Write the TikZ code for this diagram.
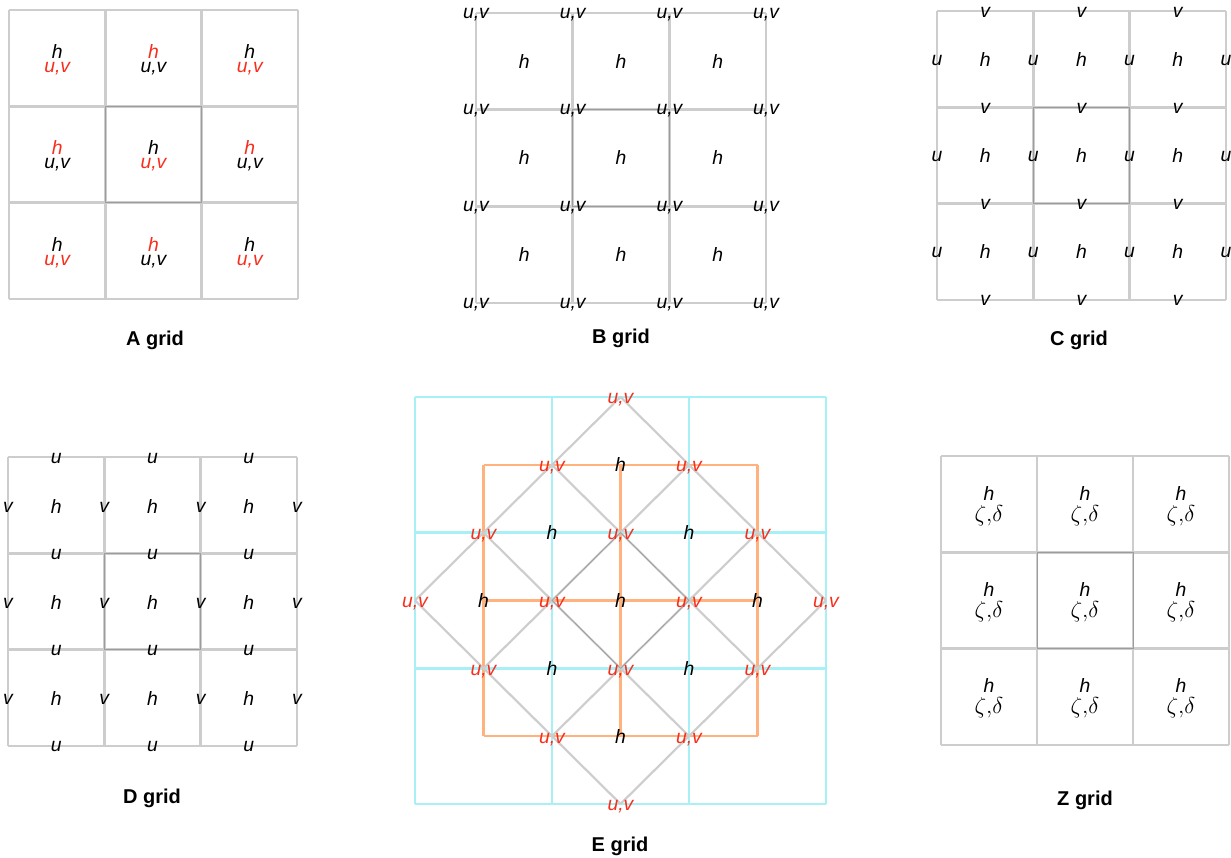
\documentclass[tikz,border=0pt]{standalone}
\usepackage{fontspec}
\setmainfont{Liberation Sans}
\usetikzlibrary{positioning}
\definecolor{gitgrau}{HTML}{CDCDCD}
\definecolor{mittgrau}{HTML}{9C9C9C}
\definecolor{punktrot}{HTML}{F82E1C}
\definecolor{eturkis}{HTML}{A6F0F6}
\definecolor{eorange}{HTML}{FFB27E}

\begin{document}
\begin{tikzpicture}[x=0.75pt, y=-0.75pt,
    gitter/.style={gitgrau, line width=2pt},
    mitte/.style={mittgrau, line width=0.5pt},
    var/.style={font=\fontsize{14.5}{17}\selectfont\itshape, inner sep=0pt, anchor=base},
    rot/.style={var, text=punktrot},
    titel/.style={font=\fontsize{15}{18}\selectfont\bfseries, inner sep=0pt, anchor=base}]

    \useasboundingbox (0,0) rectangle (1231,857);

    % A-Gitter: alles im Zellmittelpunkt
    \begin{scope}[shift={(9,10)}]
        \foreach \k in {0,...,3} {
            \draw[gitter] (96.3*\k,0) -- (96.3*\k,289);
            \draw[gitter] (0,96.3*\k) -- (289,96.3*\k);
        }
        \draw[mitte] (96.3,96.3) rectangle (192.6,192.6);
        \foreach \i/\j/\hf/\uf in {0/0/var/rot, 1/0/rot/var, 2/0/var/rot,
                                   0/1/rot/var, 1/1/var/rot, 2/1/rot/var,
                                   0/2/var/rot, 1/2/rot/var, 2/2/var/rot} {
            \node[\hf] (a-h-\i\j) at (96.3*\i+48.2, 96.3*\j+48.5) {h};
            \node[\uf] (a-uv-\i\j) at (96.3*\i+48.2, 96.3*\j+62.5) {u,v};
        }
    \end{scope}
    \node[titel] (a-titel) at (155,345) {A grid};

    % B-Gitter: u,v an den Ecken
    \begin{scope}[shift={(476,13)}]
        \foreach \k in {0,...,3} {
            \draw[gitter] (96.7*\k,0) -- (96.7*\k,290);
            \draw[gitter] (0,96.7*\k) -- (290,96.7*\k);
        }
        \draw[mitte] (96.7,96.7) rectangle (193.4,193.4);
        \foreach \i in {0,...,3}
            \foreach \j in {0,...,3}
                \node[var] (b-uv-\i\j) at (96.7*\i, 96.7*\j+5) {u,v};
        \foreach \i in {0,1,2}
            \foreach \j in {0,1,2}
                \node[var] (b-h-\i\j) at (96.7*\i+48.3, 96.7*\j+55) {h};
    \end{scope}
    \node[titel] (b-titel) at (621,343) {B grid};

    % C-Gitter: u auf senkrechten, v auf waagrechten Kanten
    \begin{scope}[shift={(937,11)}]
        \foreach \k in {0,...,3} {
            \draw[gitter] (96.3*\k,0) -- (96.3*\k,289);
            \draw[gitter] (0,96.3*\k) -- (289,96.3*\k);
        }
        \draw[mitte] (96.3,96.3) rectangle (192.6,192.6);
        \foreach \i in {0,...,3}
            \foreach \j in {0,1,2}
                \node[var] (c-u-\i\j) at (96.3*\i, 96.3*\j+54) {u};
        \foreach \i in {0,1,2}
            \foreach \j in {0,...,3}
                \node[var] (c-v-\i\j) at (96.3*\i+48.2, 96.3*\j+6) {v};
        \foreach \i in {0,1,2}
            \foreach \j in {0,1,2}
                \node[var] (c-h-\i\j) at (96.3*\i+48.2, 96.3*\j+55) {h};
    \end{scope}
    \node[titel] (c-titel) at (1079,345) {C grid};

    % D-Gitter: u auf waagrechten, v auf senkrechten Kanten
    \begin{scope}[shift={(8,457)}]
        \foreach \k in {0,...,3} {
            \draw[gitter] (96.3*\k,0) -- (96.3*\k,289);
            \draw[gitter] (0,96.3*\k) -- (289,96.3*\k);
        }
        \draw[mitte] (96.3,96.3) rectangle (192.6,192.6);
        \foreach \i in {0,1,2}
            \foreach \j in {0,...,3}
                \node[var] (d-u-\i\j) at (96.3*\i+48.2, 96.3*\j+6) {u};
        \foreach \i in {0,...,3}
            \foreach \j in {0,1,2}
                \node[var] (d-v-\i\j) at (96.3*\i, 96.3*\j+55) {v};
        \foreach \i in {0,1,2}
            \foreach \j in {0,1,2}
                \node[var] (d-h-\i\j) at (96.3*\i+48.2, 96.3*\j+56) {h};
    \end{scope}
    \node[titel] (d-titel) at (152,803) {D grid};

    % E-Gitter: gedrehtes Gitter ueber zwei geraden Gittern
    \begin{scope}[shift={(415,397)}, yscale=0.99]
        \foreach \k in {0,...,3} {
            \draw[eturkis, line width=1.9pt] (137*\k,0) -- (137*\k,411);
            \draw[eturkis, line width=1.9pt] (0,137*\k) -- (411,137*\k);
        }
        \foreach \k in {0,1,2} {
            \draw[eorange, line width=1.9pt] (68.5+137*\k,68.5) -- (68.5+137*\k,342.5);
            \draw[eorange, line width=1.9pt] (68.5,68.5+137*\k) -- (342.5,68.5+137*\k);
        }
        \foreach \i in {0,...,3}
            \foreach \j in {0,...,3}
                \coordinate (e-\i\j) at ({205.5+68.5*(\j-\i)}, {68.5*(\i+\j)});
        \foreach \k in {0,...,3} {
            \draw[gitter, line width=1.6pt] (e-\k0) -- (e-\k3);
            \draw[gitter, line width=1.6pt] (e-0\k) -- (e-3\k);
        }
        \draw[mitte] (e-11) -- (e-12) -- (e-22) -- (e-21) -- cycle;
        \foreach \i in {0,...,3}
            \foreach \j in {0,...,3}
                \node[rot] (e-uv-\i\j) at ({205.5+68.5*(\j-\i)}, {68.5*(\i+\j)+7}) {u,v};
        \foreach \i in {0,1,2}
            \foreach \j in {0,1,2}
                \node[var] (e-h-\i\j) at ({205.5+68.5*(\j-\i)}, {68.5*(\i+\j+1)+7}) {h};
    \end{scope}
    \node[titel] (e-titel) at (620,851) {E grid};

    % Z-Gitter: h, Wirbelstaerke und Divergenz im Zellmittelpunkt
    \begin{scope}[shift={(941,456)}]
        \foreach \k in {0,...,3} {
            \draw[gitter] (96*\k,0) -- (96*\k,289);
            \draw[gitter] (0,96.3*\k) -- (288,96.3*\k);
        }
        \draw[mitte] (96,96.3) rectangle (192,192.6);
        \foreach \i in {0,1,2}
            \foreach \j in {0,1,2} {
                \node[var] (z-h-\i\j) at (96*\i+48, 96.3*\j+44) {h};
                \node[var, font=\fontsize{17.5}{20}\selectfont] (z-zd-\i\j)
                    at (96*\i+48, 96.3*\j+65) {$\zeta{,}\delta$};
            }
    \end{scope}
    \node[titel] (z-titel) at (1085,805) {Z grid};

\end{tikzpicture}
\end{document}
